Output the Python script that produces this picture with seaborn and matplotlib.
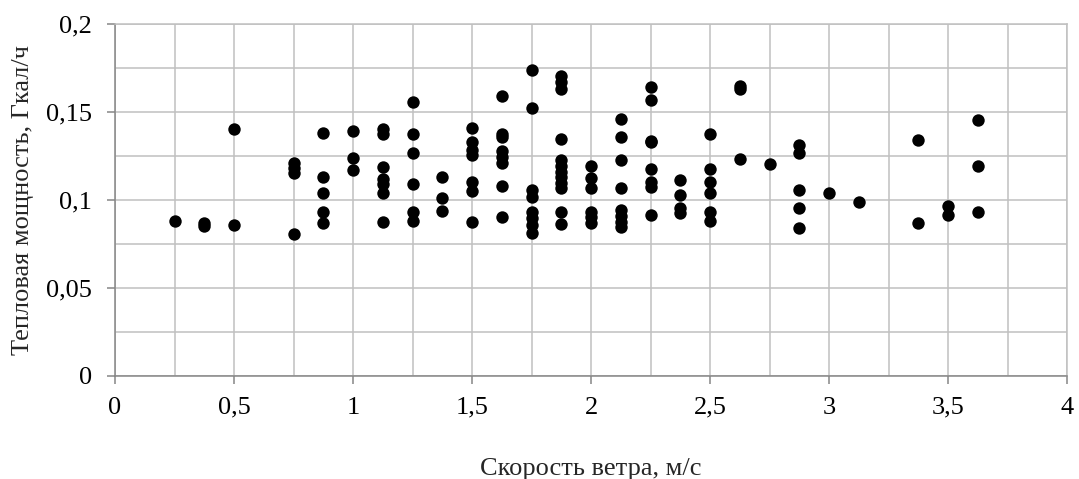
import numpy as np
import pandas as pd
import seaborn as sns
import matplotlib
matplotlib.use("Agg")
import matplotlib.pyplot as plt
from matplotlib.ticker import MultipleLocator, FuncFormatter

# Wind speed, m/s
wind_speed = (
    [0.25] + [0.375] * 2 + [0.5] * 2 + [0.75] * 4 + [0.875] * 5 + [1.0] * 3
    + [1.125] * 7 + [1.25] * 6 + [1.375] * 3 + [1.5] * 7 + [1.625] * 8
    + [1.75] * 8 + [1.875] * 12 + [2.0] * 6 + [2.125] * 8 + [2.25] * 8
    + [2.375] * 4 + [2.5] * 6 + [2.625] * 3 + [2.75] * 1 + [2.875] * 5
    + [3.0] * 1 + [3.125] * 1 + [3.375] * 2 + [3.5] * 2 + [3.625] * 3
)

# Heat power, Gcal/h
heat_power = [
    0.088,
    0.0871, 0.0852,
    0.1405, 0.0855,
    0.1208, 0.118, 0.1152, 0.0806,
    0.1382, 0.1132, 0.1041, 0.0931, 0.0867,
    0.139, 0.124, 0.1172,
    0.1403, 0.1373, 0.1185, 0.1117, 0.109, 0.1039, 0.0874,
    0.1557, 0.1378, 0.1265, 0.109, 0.0931, 0.0878,
    0.1128, 0.1011, 0.0935,
    0.1407, 0.1331, 0.1284, 0.1256, 0.1104, 0.1053, 0.0873,
    0.1593, 0.1375, 0.1356, 0.128, 0.1246, 0.1208, 0.108, 0.0905,
    0.1737, 0.1525, 0.1057, 0.1015, 0.0934, 0.0896, 0.0858, 0.0811,
    0.1706, 0.1672, 0.1629, 0.1347, 0.1227, 0.1193, 0.1161, 0.1129, 0.1095, 0.1066, 0.0934, 0.0862,
    0.1193, 0.1123, 0.1066, 0.0934, 0.0902, 0.0867,
    0.146, 0.1356, 0.1227, 0.107, 0.0943, 0.0909, 0.0877, 0.0848,
    0.1644, 0.1568, 0.1338, 0.1328, 0.1174, 0.1104, 0.1076, 0.0915,
    0.1114, 0.1028, 0.0953, 0.0924,
    0.1375, 0.1179, 0.1104, 0.1041, 0.0929, 0.088,
    0.165, 0.1629, 0.1232,
    0.1204,
    0.1312, 0.1268, 0.1056, 0.0952, 0.0838,
    0.1041,
    0.0988,
    0.1344, 0.0867,
    0.0967, 0.0914,
    0.1458, 0.1195, 0.0933,
]

x_label = "Скорость ветра, м/с"
y_label = "Тепловая мощность, Гкал/ч"

df = pd.DataFrame({"x": wind_speed, "y": heat_power})

sns.set_style("white")
plt.rcParams["font.family"] = ["Liberation Serif", "DejaVu Serif"]

fig = plt.figure(figsize=(10.79, 4.79), dpi=100)
ax = fig.add_axes([0.1066, 0.2157, 0.8823, 0.7336])

sns.scatterplot(data=df, x="x", y="y", ax=ax, color="black", s=80,
                edgecolor="black", linewidth=0, zorder=3, legend=False)

ax.set_xlim(0, 4)
ax.set_ylim(0, 0.2)
ax.xaxis.set_major_locator(MultipleLocator(0.5))
ax.xaxis.set_minor_locator(MultipleLocator(0.25))
ax.yaxis.set_major_locator(MultipleLocator(0.05))
ax.yaxis.set_minor_locator(MultipleLocator(0.025))

def fmt(v, pos):
    s = f"{v:.2f}".rstrip("0").rstrip(".")
    return s.replace(".", ",")

ax.xaxis.set_major_formatter(FuncFormatter(fmt))
ax.yaxis.set_major_formatter(FuncFormatter(fmt))

ax.grid(True, which="both", color="#c0c0c0", linewidth=1.1, zorder=0)
ax.set_axisbelow(True)

for side in ["top", "right"]:
    ax.spines[side].set_visible(True)
    ax.spines[side].set_color("#c0c0c0")
    ax.spines[side].set_linewidth(1.1)
for side in ["left", "bottom"]:
    ax.spines[side].set_color("#868686")
    ax.spines[side].set_linewidth(1.1)

ax.tick_params(axis="both", which="major", direction="out", length=6,
               width=1.1, color="#868686", labelsize=19, labelcolor="black",
               left=True, bottom=True)
ax.tick_params(axis="x", which="major", pad=9)
ax.tick_params(axis="y", which="major", pad=10.5)
ax.tick_params(which="minor", length=0)

ax.set_xlabel(x_label, fontsize=19)
ax.set_ylabel(y_label, fontsize=19)
ax.xaxis.set_label_coords(0.5, -0.235)
ax.yaxis.set_label_coords(-0.097, 0.5)
ax.yaxis.label.set_verticalalignment("center")

fig.savefig("out.png", dpi=100)
